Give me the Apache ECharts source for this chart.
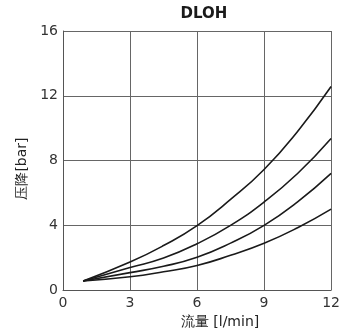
<!DOCTYPE html>
<html>
<head>
<meta charset="utf-8">
<script src="https://cdn.jsdelivr.net/npm/echarts@6/dist/echarts.min.js"></script>
<style>
  html, body { margin: 0; padding: 0; background: #fff; }
  #chart { width: 343px; height: 334px; }
</style>
</head>
<body>
<div id="chart"></div>
<script>
// flow [l/min] sample points
const flow = [0.9, 3, 4.5, 6, 7.5, 9, 10.5, 12];
// pressure drop [bar] for each curve
const curveA = [0.56, 1.73, 2.75, 3.98, 5.6, 7.45, 9.8, 12.57];
const curveB = [0.56, 1.39, 1.98, 2.86, 4.0, 5.44, 7.2, 9.36];
const curveC = [0.56, 1.08, 1.47, 2.03, 2.9, 4.0, 5.45, 7.21];
const curveD = [0.56, 0.82, 1.13, 1.52, 2.15, 2.89, 3.85, 5.0];

const xTicks = [0, 3, 6, 9, 12];
const yTicks = [0, 4, 8, 12, 16];

const chart = echarts.init(document.getElementById("chart"), null, { renderer: "canvas" });

const font = "DejaVu Sans";
const mkSeries = (vals) => ({
  type: "line",
  smooth: 0.5,
  showSymbol: false,
  data: flow.map((x, i) => [x, vals[i]]),
  lineStyle: { color: "#1a1a1a", width: 1.6 },
  silent: true,
});

chart.setOption({
  animation: false,
  backgroundColor: "#fff",
  title: {
    text: "DLOH",
    left: 199,
    textAlign: "center",
    top: 2,
    textStyle: { fontFamily: font, fontWeight: "bold", fontSize: 15, color: "#1a1a1a" },
  },
  grid: { left: 63, right: 8, top: 31, bottom: 37 },
  xAxis: {
    type: "value",
    min: xTicks[0],
    max: xTicks[xTicks.length - 1],
    interval: 3,
    name: "流量 [l/min]",
    nameLocation: "middle",
    nameGap: 19,
    nameTextStyle: { fontFamily: font, fontSize: 14, color: "#222", padding: [0, 0, 0, 46] },
    axisLine: { show: true, lineStyle: { color: "#555", width: 1 } },
    axisTick: { show: false },
    axisLabel: { fontFamily: font, fontSize: 14, color: "#333", margin: 6 },
    splitLine: { show: true, lineStyle: { color: "#666", width: 1 } },
  },
  yAxis: {
    type: "value",
    min: yTicks[0],
    max: yTicks[yTicks.length - 1],
    interval: 4,
    name: "压降[bar]",
    nameLocation: "middle",
    nameRotate: 90,
    nameGap: 34,
    nameTextStyle: { fontFamily: font, fontSize: 14, color: "#222", padding: [0, 16, 0, 0] },
    axisLine: { show: true, lineStyle: { color: "#555", width: 1 } },
    axisTick: { show: false },
    axisLabel: { fontFamily: font, fontSize: 14, color: "#333", margin: 5 },
    splitLine: { show: true, lineStyle: { color: "#666", width: 1 } },
  },
  series: [mkSeries(curveA), mkSeries(curveB), mkSeries(curveC), mkSeries(curveD)],
});
</script>
</body>
</html>
